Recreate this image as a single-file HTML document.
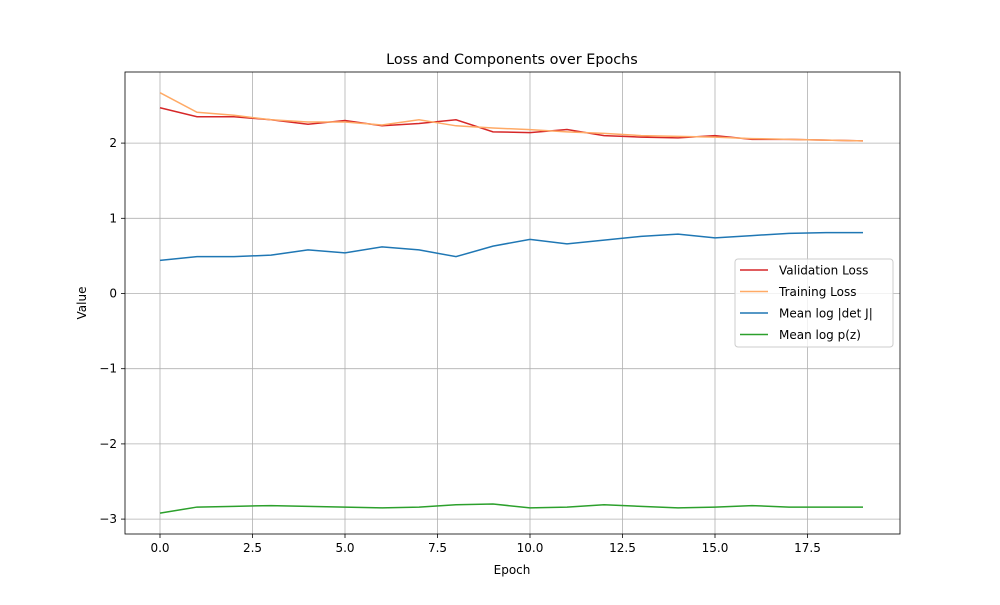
<!DOCTYPE html>
<html><head><meta charset="utf-8"><style>
body{margin:0;background:#fff;font-family:"Liberation Sans","DejaVu Sans",sans-serif}
svg text{font-family:"DejaVu Sans","Liberation Sans",sans-serif}
</style></head><body>
<svg id="chart" width="1000" height="600"></svg>
<script>
const epochs=[0,1,2,3,4,5,6,7,8,9,10,11,12,13,14,15,16,17,18,19];
const validationLoss=[2.47,2.35,2.35,2.31,2.25,2.30,2.23,2.26,2.31,2.15,2.14,2.18,2.10,2.08,2.07,2.10,2.05,2.05,2.04,2.03];
const trainingLoss=[2.67,2.41,2.37,2.31,2.28,2.28,2.24,2.31,2.23,2.20,2.18,2.15,2.13,2.10,2.09,2.08,2.06,2.05,2.04,2.03];
const meanLogDetJ=[0.44,0.49,0.49,0.51,0.58,0.54,0.62,0.58,0.49,0.63,0.72,0.66,0.71,0.76,0.79,0.74,0.77,0.80,0.81,0.81];
const meanLogPz=[-2.92,-2.84,-2.83,-2.82,-2.83,-2.84,-2.85,-2.84,-2.81,-2.80,-2.85,-2.84,-2.81,-2.83,-2.85,-2.84,-2.82,-2.84,-2.84,-2.84];
const xTicks=[0,2.5,5,7.5,10,12.5,15,17.5];
const xTickLabels=["0.0","2.5","5.0","7.5","10.0","12.5","15.0","17.5"];
const yTicks=[-3,-2,-1,0,1,2];
const yTickLabels=["\u22123","\u22122","\u22121","0","1","2"];
const NS="http://www.w3.org/2000/svg";
const svg=document.getElementById('chart');
const L=125,R=900,T=72,B=534;
const xs=v=>160+v*37;
const ys=v=>293.5-v*75.2;
function mk(tag,attrs,parent){const e=document.createElementNS(NS,tag);for(const k in attrs)e.setAttribute(k,attrs[k]);(parent||svg).appendChild(e);return e;}
// grid + ticks
xTicks.forEach((t,i)=>{
 const g=mk('line',{x1:xs(t),x2:xs(t),y1:T,y2:B,stroke:'#b0b0b0','stroke-width':0.8});
 
 
 mk('line',{x1:xs(t),x2:xs(t),y1:B,y2:B+4,stroke:'#000','stroke-width':0.8});
 const tx=mk('text',{x:xs(t),y:B+18,'text-anchor':'middle','font-size':12});
 tx.textContent=xTickLabels[i];
 
 
});
yTicks.forEach((t,i)=>{
 const g=mk('line',{x1:L,x2:R,y1:ys(t),y2:ys(t),stroke:'#b0b0b0','stroke-width':0.8});
 
 
 mk('line',{x1:L-4,x2:L,y1:ys(t),y2:ys(t),stroke:'#000','stroke-width':0.8});
 const tx=mk('text',{x:L-8,y:ys(t)+4,'text-anchor':'end','font-size':12});
 tx.textContent=yTickLabels[i];
 
 
});
const series=[[validationLoss,'#d62728','validation-loss-line'],[trainingLoss,'#ffaa66','training-loss-line'],[meanLogDetJ,'#1f77b4','mean-log-det-j-line'],[meanLogPz,'#2ca02c','mean-log-pz-line']];
series.forEach(([d,c,n])=>{
 const p=mk('polyline',{points:d.map((v,i)=>xs(epochs[i])+','+ys(v)).join(' '),fill:'none',stroke:c,'stroke-width':1.5});
 
 
});
const fr=mk('rect',{x:L,y:T,width:R-L,height:B-T,fill:'none',stroke:'#000','stroke-width':0.8});


const title=mk('text',{x:512,y:64,'text-anchor':'middle','font-size':14.4});
title.textContent='Loss and Components over Epochs';


const xl=mk('text',{x:512,y:574,'text-anchor':'middle','font-size':12});
xl.textContent='Epoch';


const yl=mk('text',{x:86,y:303,'text-anchor':'middle','font-size':12,transform:'rotate(-90 86 303)'});
yl.textContent='Value';


const lg=mk('g',{});


mk('rect',{x:735,y:259,width:158,height:88,rx:3,fill:'#fff','fill-opacity':0.8,stroke:'#ccc'},lg);
const names=['Validation Loss','Training Loss','Mean log |det J|','Mean log p(z)'];
series.forEach(([d,c],i)=>{
 const y=270+i*21.5;
 mk('line',{x1:740,x2:768,y1:y,y2:y,stroke:c,'stroke-width':1.5},lg);
 const t=mk('text',{x:779,y:y+4.5,'font-size':12},lg);
 t.textContent=names[i];
 
 
});
</script>
</body></html>
